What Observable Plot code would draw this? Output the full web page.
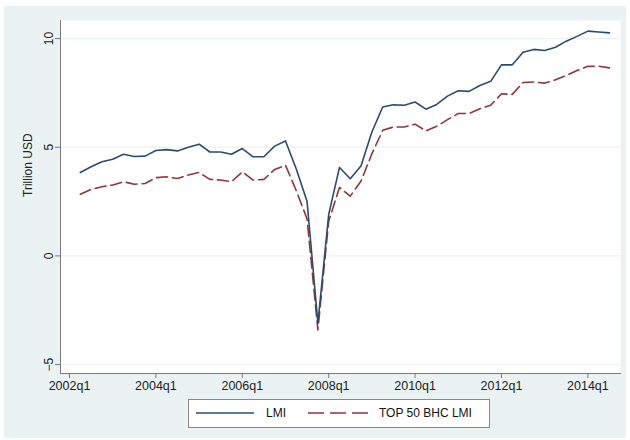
<!DOCTYPE html>
<html>
<head>
<meta charset="utf-8">
<script src="https://cdn.jsdelivr.net/npm/d3@7"></script>
<script src="https://cdn.jsdelivr.net/npm/@observablehq/plot@0.6"></script>
<style>
  body { margin: 0; background: #ffffff; font-family: "Liberation Sans", Arial, sans-serif; }
  #panel { position: absolute; left: 4px; top: 6px; width: 622px; height: 432px; background: #eaf2f3; }
  #chart { position: absolute; left: 0; top: 0; }
  #legend { position: absolute; left: 184px; top: 393px; width: 300px; height: 27px; background: #fff; border: 1px solid #8a8a8a; }
  .lab { position: absolute; top: 6px; font-size: 12px; color: #111; line-height: 14px; }
  .sw { position: absolute; top: 6px; }
</style>
</head>
<body>
<div id="panel">
  <div id="chart"></div>
  <div id="legend">
    <svg class="sw" style="left:7px" width="60" height="14"><line x1="0" y1="7" x2="58" y2="7" stroke="#2b4c6f" stroke-width="1.6"/></svg>
    <div class="lab" style="left:77px">LMI</div>
    <svg class="sw" style="left:119px" width="62" height="14"><line x1="0" y1="7" x2="61" y2="7" stroke="#90353b" stroke-width="1.6" stroke-dasharray="16,6"/></svg>
    <div class="lab" style="left:190px">TOP 50 BHC LMI</div>
  </div>
</div>
<script>
const quarters = [
  "2002q2","2002q3","2002q4","2003q1","2003q2","2003q3","2003q4","2004q1","2004q2","2004q3",
  "2004q4","2005q1","2005q2","2005q3","2005q4","2006q1","2006q2","2006q3","2006q4","2007q1",
  "2007q2","2007q3","2007q4","2008q1","2008q2","2008q3","2008q4","2009q1","2009q2","2009q3",
  "2009q4","2010q1","2010q2","2010q3","2010q4","2011q1","2011q2","2011q3","2011q4","2012q1",
  "2012q2","2012q3","2012q4","2013q1","2013q2","2013q3","2013q4","2014q1","2014q2","2014q3"
];
const lmi = [
  3.84, 4.10, 4.33, 4.45, 4.68, 4.57, 4.59, 4.85, 4.89, 4.83,
  5.00, 5.14, 4.78, 4.78, 4.68, 4.94, 4.56, 4.56, 5.05, 5.29,
  4.00, 2.50, -3.10, 1.90, 4.07, 3.55, 4.15, 5.70, 6.85, 6.95,
  6.93, 7.08, 6.75, 6.97, 7.35, 7.60, 7.57, 7.84, 8.03, 8.79,
  8.79, 9.37, 9.50, 9.45, 9.60, 9.88, 10.10, 10.34, 10.30, 10.26
];
const top50 = [
  2.84, 3.06, 3.18, 3.26, 3.41, 3.30, 3.33, 3.60, 3.64, 3.56,
  3.72, 3.84, 3.52, 3.49, 3.41, 3.87, 3.49, 3.52, 3.98, 4.17,
  3.00, 1.70, -3.40, 1.60, 3.15, 2.75, 3.45, 4.70, 5.78, 5.93,
  5.93, 6.06, 5.75, 5.96, 6.27, 6.55, 6.55, 6.77, 6.93, 7.46,
  7.43, 7.98, 8.00, 7.95, 8.10, 8.30, 8.53, 8.72, 8.73, 8.65
];
const xTickLabels = ["2002q1","2004q1","2006q1","2008q1","2010q1","2012q1","2014q1"];
const yTicks = [-5, 0, 5, 10];

const toNum = s => +s.slice(0, 4) + (+s.slice(5) - 1) / 4;
const rowsLMI = quarters.map((q, i) => ({t: toNum(q), v: lmi[i]}));
const rowsTop = quarters.map((q, i) => ({t: toNum(q), v: top50[i]}));
const xTicks = xTickLabels.map(toNum);
const tickLabel = new Map(xTicks.map((t, i) => [t, xTickLabels[i]]));

const chart = Plot.plot({
  width: 622,
  height: 395,
  marginLeft: 56,
  marginRight: 6,
  marginTop: 14,
  marginBottom: 28,
  style: {background: "transparent", fontFamily: "Liberation Sans, Arial, sans-serif", color: "#222"},
  x: {domain: [2001.792, 2014.755]},
  y: {domain: [-5.41, 10.83]},
  marks: [
    Plot.frame({fill: "#ffffff", stroke: null}),
    Plot.ruleY(yTicks, {stroke: "#eaf2f3", strokeWidth: 1.2}),
    Plot.frame({anchor: "left", stroke: "#7a7a7a"}),
    Plot.frame({anchor: "bottom", stroke: "#7a7a7a"}),
    Plot.axisY({ticks: yTicks, tickSize: 5, tickRotate: -90, tickPadding: 3, label: null, fontSize: 12, stroke: "#7a7a7a"}),
    Plot.axisX({ticks: xTicks, tickFormat: d => tickLabel.get(d), tickSize: 5, tickPadding: 3, label: null, fontSize: 12.5, stroke: "#7a7a7a"}),
    Plot.text(["Trillion USD"], {frameAnchor: "left", rotate: -90, dx: -32, fontSize: 12, fill: "#222"}),
    Plot.line(rowsTop, {x: "t", y: "v", stroke: "#90353b", strokeWidth: 1.6, strokeDasharray: "11,5"}),
    Plot.line(rowsLMI, {x: "t", y: "v", stroke: "#2b4c6f", strokeWidth: 1.6})
  ]
});
document.getElementById("chart").appendChild(chart);
</script>
</body>
</html>
